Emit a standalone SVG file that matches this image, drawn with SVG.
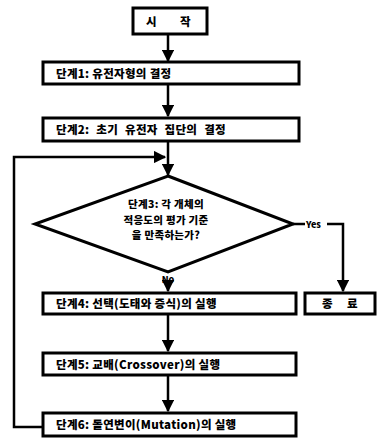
<svg xmlns="http://www.w3.org/2000/svg" width="378" height="440" viewBox="0 0 378 440">
<style>
.box{fill:#fff;stroke:#000;stroke-width:3}
.ln{fill:none;stroke:#000;stroke-width:2.5}
.t{font-family:"Noto Sans CJK KR","Noto Sans",sans-serif;font-weight:900;font-size:11.5px;fill:#000;letter-spacing:0.3px}
.c{text-anchor:middle}
.d{font-size:10.5px}
.s{font-size:9px;letter-spacing:0}
</style>
<defs>
<marker id="ah" viewBox="0 0 10 10" refX="9" refY="5" markerWidth="5" markerHeight="5" orient="auto" markerUnits="strokeWidth">
<path d="M0,0 L10,5 L0,10 z" fill="#000"/>
</marker>
</defs>
<g id="connectors">
<line class="ln" x1="168" y1="34" x2="168" y2="61" marker-end="url(#ah)"/>
<line class="ln" x1="168" y1="84" x2="168" y2="116" marker-end="url(#ah)"/>
<line class="ln" x1="168" y1="141" x2="168" y2="175" marker-end="url(#ah)"/>
<polyline class="ln" points="43,427 14,427 14,157 165,157" marker-end="url(#ah)"/>
<line class="ln" x1="293" y1="224" x2="305" y2="224"/>
<polyline class="ln" points="327,224 343,224 343,291" marker-end="url(#ah)"/>
<line class="ln" x1="168" y1="286" x2="168" y2="291" marker-end="url(#ah)"/>
<line class="ln" x1="168" y1="314" x2="168" y2="351" marker-end="url(#ah)"/>
<line class="ln" x1="168" y1="375" x2="168" y2="411" marker-end="url(#ah)"/>
<text class="t s" x="306" y="227.5">Yes</text>
<text class="t c s" x="168" y="283">No</text>
</g>
<g id="start">
<rect class="box" x="133" y="8" width="74" height="26"/>
<text class="t" x="146" y="26">시</text>
<text class="t" x="180" y="26">작</text>
</g>
<g id="step1">
<rect class="box" x="43" y="62" width="256" height="22"/>
<text class="t" x="56" y="77.5">단계1: 유전자형의 결정</text>
</g>
<g id="step2">
<rect class="box" x="43" y="118" width="256" height="23"/>
<text class="t" x="56" y="134" word-spacing="4">단계2: 초기 유전자 집단의 결정</text>
</g>
<g id="step3">
<polygon class="box" points="168,176 293,224 168,272 35,224"/>
<text class="t c d" x="166" y="208">단계3: 각 개체의</text>
<text class="t c d" x="166" y="223.5">적응도의 평가 기준</text>
<text class="t c d" x="166" y="239">을 만족하는가?</text>
</g>
<g id="step4">
<rect class="box" x="43" y="293" width="253" height="21"/>
<text class="t" x="56" y="308">단계4: 선택(도태와 증식)의 실행</text>
</g>
<g id="end">
<rect class="box" x="305" y="293" width="70" height="21"/>
<text class="t" x="322" y="308">종</text>
<text class="t" x="347" y="308">료</text>
</g>
<g id="step5">
<rect class="box" x="43" y="353" width="253" height="22"/>
<text class="t" x="56" y="368.5">단계5: 교배(Crossover)의 실행</text>
</g>
<g id="step6">
<rect class="box" x="43" y="413" width="253" height="23"/>
<text class="t" x="56" y="429">단계6: 돌연변이(Mutation)의 실행</text>
</g>
</svg>
